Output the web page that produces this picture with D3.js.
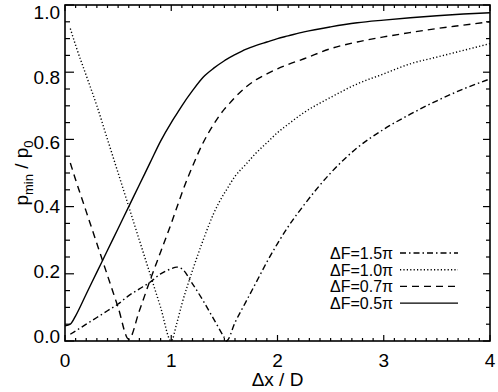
<!DOCTYPE html>
<html>
<head>
<meta charset="utf-8">
<script src="https://cdn.jsdelivr.net/npm/d3@7"></script>
<style>
	body { margin: 0; background: #fff; }
	svg { display: block; font-family: "Liberation Sans", Arial, sans-serif; }
</style>
</head>
<body>
<svg id="chart" width="498" height="392"></svg>
<script>

// x values (dx / D)
var xs = [0, 0.05, 0.1, 0.2, 0.3, 0.4, 0.5, 0.6, 0.7, 0.8, 0.9, 1.0, 1.05, 1.1, 1.2, 1.3, 1.4, 1.5, 1.52,
	1.6, 1.7, 1.8, 1.9, 2.0, 2.1, 2.25, 2.5, 2.75, 3.0, 3.25, 3.5, 3.75, 4.0];

// p_min / p_0 for each dF
var f05 = [0.045, 0.05, 0.075, 0.14, 0.205, 0.27, 0.335, 0.40, 0.465, 0.53, 0.595, 0.65, 0.675, 0.70, 0.745, 0.785, 0.812, 0.834, 0.838,
	0.852, 0.868, 0.88, 0.89, 0.90, 0.908, 0.92, 0.935, 0.947, 0.955, 0.962, 0.968, 0.973, 0.977];
var f07 = [null, 0.53, 0.48, 0.385, 0.29, 0.195, 0.10, 0.005, 0.09, 0.18, 0.265, 0.35, 0.395, 0.44, 0.52, 0.59, 0.645, 0.69, 0.697,
	0.725, 0.755, 0.778, 0.795, 0.81, 0.823, 0.84, 0.87, 0.89, 0.905, 0.918, 0.93, 0.94, 0.95];
var f10 = [null, 0.93, 0.88, 0.79, 0.70, 0.60, 0.50, 0.40, 0.30, 0.20, 0.10, 0.0, 0.05, 0.11, 0.21, 0.30, 0.38, 0.44, 0.45,
	0.49, 0.525, 0.56, 0.59, 0.62, 0.645, 0.68, 0.725, 0.765, 0.795, 0.825, 0.845, 0.865, 0.885];
var f15 = [null, 0.02, 0.03, 0.05, 0.07, 0.09, 0.11, 0.135, 0.155, 0.175, 0.20, 0.215, 0.22, 0.215, 0.17, 0.12, 0.065, 0.01, 0.0,
	0.055, 0.115, 0.175, 0.235, 0.29, 0.34, 0.405, 0.50, 0.575, 0.63, 0.675, 0.715, 0.75, 0.78];

var labels = ['\u0394F=1.5\u03c0', '\u0394F=1.0\u03c0', '\u0394F=0.7\u03c0', '\u0394F=0.5\u03c0'];
var series = [f15, f10, f07, f05];
var dashes = ['6,3,1.5,3', '1.2,2.2', '7,5', null];

var xTicks = [0, 1, 2, 3, 4];
var yTicks = [0, 0.2, 0.4, 0.6, 0.8, 1.0];

var pLeft = 65, pRight = 490, pTop = 5, pBottom = 341;

var svg = d3.select('#chart');

var x = d3.scaleLinear().domain([0, 4]).range([pLeft, pRight]);
var y = d3.scaleLinear().domain([0, 1]).range([pBottom, pTop]);
// labels sit a bit inside the end ticks, as in the original
var yLab = d3.scaleLinear().domain([0, 1]).range([336, 12]);

var xMinor = d3.range(0, 40.5).map(function(d) { return d / 10; });
var yMinor = d3.range(0, 20.5).map(function(d) { return d / 20; });

// ticks on all four sides, pointing inward
var axes = svg.append('g').attr('stroke', '#000').attr('stroke-width', 1.2);

function isMajor(v, list) {
	return list.some(function(t) { return Math.abs(t - v) < 1e-6; });
}

xMinor.forEach(function(v) {
	var len = isMajor(v, xTicks) ? 6 : 3;
	axes.append('line').attr('x1', x(v)).attr('x2', x(v)).attr('y1', pBottom).attr('y2', pBottom - len);
	axes.append('line').attr('x1', x(v)).attr('x2', x(v)).attr('y1', pTop).attr('y2', pTop + len);
});
yMinor.forEach(function(v) {
	var major = isMajor(v, yTicks);
	axes.append('line').attr('x1', pLeft).attr('x2', pLeft + (major ? 9 : 5)).attr('y1', y(v)).attr('y2', y(v));
	axes.append('line').attr('x1', pRight).attr('x2', pRight - (major ? 7 : 4)).attr('y1', y(v)).attr('y2', y(v));
});

svg.append('rect')
	.attr('x', pLeft).attr('y', pTop)
	.attr('width', pRight - pLeft).attr('height', pBottom - pTop)
	.attr('fill', 'none').attr('stroke', '#000').attr('stroke-width', 1.6);

// tick labels
svg.append('g').selectAll('text')
	.data(xTicks)
	.enter().append('text')
	.attr('x', function(d) { return x(d); })
	.attr('y', 367)
	.attr('text-anchor', 'middle')
	.attr('font-size', 19)
	.text(function(d) { return d; });

svg.append('g').selectAll('text')
	.data(yTicks)
	.enter().append('text')
	.attr('x', 60)
	.attr('y', function(d) { return yLab(d) + 7; })
	.attr('text-anchor', 'end')
	.attr('font-size', 19)
	.text(function(d) { return d3.format('.1f')(d); });

// axis titles
svg.append('text')
	.attr('x', (pLeft + pRight) / 2)
	.attr('y', 386)
	.attr('text-anchor', 'middle')
	.attr('font-size', 19)
	.text('\u0394x / D');

var yt = svg.append('text')
	.attr('transform', 'translate(28,' + ((pTop + pBottom) / 2) + ') rotate(-90)')
	.attr('text-anchor', 'middle')
	.attr('font-size', 19);
yt.append('tspan').text('p');
yt.append('tspan').attr('font-size', 13).attr('dy', 5).text('min');
yt.append('tspan').attr('dy', -5).text(' / p');
yt.append('tspan').attr('font-size', 13).attr('dy', 5).text('0');

// curves
var line = d3.line()
	.defined(function(d) { return d[1] !== null; })
	.x(function(d) { return x(d[0]); })
	.y(function(d) { return y(d[1]); })
	.curve(d3.curveMonotoneX);

series.forEach(function(s, i) {
	svg.append('path')
		.datum(xs.map(function(v, j) { return [v, s[j]]; }))
		.attr('d', line)
		.attr('fill', 'none')
		.attr('stroke', '#000')
		.attr('stroke-width', 1.4)
		.attr('stroke-dasharray', dashes[i]);
});

// legend
var leg = svg.append('g');
labels.forEach(function(t, i) {
	var ly = 253 + i * 16.7;
	leg.append('text')
		.attr('x', 330).attr('y', ly + 6)
		.attr('font-size', 16)
		.text(t);
	leg.append('line')
		.attr('x1', 400).attr('x2', 458)
		.attr('y1', ly).attr('y2', ly)
		.attr('stroke', '#000')
		.attr('stroke-width', 1.4)
		.attr('stroke-dasharray', dashes[i]);
});

</script>
</body>
</html>
